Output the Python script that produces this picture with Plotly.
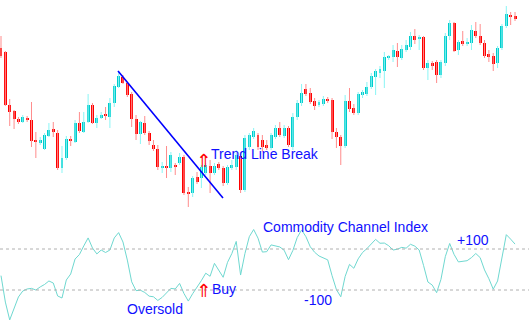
import plotly.graph_objects as go

# Price chart (candles)
opens = [202,198,145,139,131,128,132,130,109,107,101,114,121,117,82,92,110,108,127,118,
         128,145,127,132,136,133,147,163,173,167,156,131,116,127,117,105,101,82,84,82,
         84,87,93,57,57,73,72,77,84,77,86,82,67,82,83,94,60,103,113,115,
         110,105,102,113,122,114,122,103,133,147,161,157,149,145,146,151,150,118,113,104,
         149,142,137,155,156,163,173,177,179,192,193,199,192,200,203,214,211,213,182,187,
         188,175,187,214,227,200,209,206,207,219,214,207,196,194,187,202,224,235,234]
closes = [194,145,138,131,128,133,130,109,108,110,115,120,118,82,92,111,109,127,119,128,
          145,127,132,135,134,147,164,174,167,155,131,116,128,117,109,101,83,84,82,95,
          83,93,57,56,72,68,83,85,77,84,82,67,83,85,95,60,112,115,119,103,
          103,102,115,122,115,122,105,133,147,157,156,148,144,148,151,149,118,113,104,149,
          141,137,156,158,163,174,179,181,193,193,200,193,201,205,214,210,213,182,187,184,
          175,188,214,227,199,208,206,208,220,214,207,194,193,186,202,224,236,233,231]
highs = [214,199,151,140,133,135,134,148,118,113,117,127,128,120,104,114,114,130,138,138,
         156,147,135,138,143,152,166,178,175,168,158,135,129,134,119,110,105,88,104,98,
         87,97,95,63,74,78,85,87,90,87,88,84,85,90,100,98,115,117,122,117,
         115,110,117,125,128,125,124,137,150,166,166,162,152,150,154,153,152,122,115,155,
         162,146,158,160,168,177,181,184,198,195,205,207,205,210,218,221,215,214,190,189,
         190,190,217,230,228,210,219,212,225,228,226,210,200,197,204,226,244,238,238]
lows = [192,144,124,121,126,127,128,103,92,105,100,113,113,80,77,90,104,107,117,117,
        127,126,122,131,130,122,143,162,166,153,123,110,106,115,105,99,80,77,72,78,
        75,85,55,43,53,66,62,75,57,75,80,64,65,80,80,57,58,100,111,100,
        98,100,100,111,113,112,103,100,130,144,154,146,140,143,144,147,111,102,85,102,
        138,135,135,152,154,161,155,172,162,190,188,183,190,198,200,206,200,180,170,180,
        167,172,184,210,198,195,204,204,200,212,205,192,188,179,182,200,222,225,229]

# Commodity Channel Index, one value per candle
cci = [-30,-159,-246,-193,-134,-105,-95,-92,-100,-85,-73,-56,-66,-129,-139,-51,-22,51,73,115,
       154,105,76,95,83,95,154,180,134,46,-60,-103,-101,-112,-130,-133,-151,-136,-116,-92,
       -95,-68,-117,-154,-118,-89,-54,-18,-33,30,-6,-38,35,78,137,-27,78,160,195,153,
       85,87,120,115,110,94,48,93,156,193,160,111,84,66,56,47,-30,-98,-133,-34,
       25,6,52,83,102,126,147,128,129,116,95,99,108,104,123,114,95,20,-61,-76,
       -113,-48,63,127,74,37,41,43,58,78,58,-2,-45,-96,-56,48,170,148,124]

cci_levels = [100, -100]
trend_x = [26.86, 50.96]
trend_y = [179, 52]

idx = list(range(len(opens)))
up = [c >= o for o, c in zip(opens, closes)]

wx_up, wy_up, wx_dn, wy_dn = [], [], [], []
for i in idx:
    if up[i]:
        wx_up += [i, i, None]; wy_up += [lows[i], highs[i], None]
    else:
        wx_dn += [i, i, None]; wy_dn += [lows[i], highs[i], None]

base = [min(o, c) for o, c in zip(opens, closes)]
height = [max(abs(c - o), 1.2) for o, c in zip(opens, closes)]
body_col = ['#00cccc' if u else '#ff0000' for u in up]

fig = go.Figure()
fig.add_trace(go.Scatter(x=wx_up, y=wy_up, mode='lines', line=dict(color='#8af5f5', width=1),
                         hoverinfo='skip', showlegend=False))
fig.add_trace(go.Scatter(x=wx_dn, y=wy_dn, mode='lines', line=dict(color='#ff8c8c', width=1),
                         hoverinfo='skip', showlegend=False))
fig.add_trace(go.Bar(x=idx, y=height, base=base, width=0.68, marker=dict(color=body_col, line=dict(width=0)),
                     showlegend=False))
fig.add_trace(go.Scatter(x=trend_x, y=trend_y, mode='lines', line=dict(color='#0000ff', width=1.6),
                         showlegend=False))
fig.add_trace(go.Scatter(x=idx, y=cci, mode='lines', line=dict(color='#6fd8d0', width=1),
                         yaxis='y2', showlegend=False))

for lv in cci_levels:
    fig.add_shape(type='line', xref='paper', x0=0, x1=1, yref='y2', y0=lv, y1=lv,
                  line=dict(color='#b0b0b0', width=1, dash='dot'))

W, H = 529, 330
def ann(text, px, py, color='#1010ff', size=14, family='Liberation Sans, Arial, sans-serif'):
    fig.add_annotation(text=text, xref='paper', yref='paper', x=px / W, y=1 - py / H,
                       xanchor='center', yanchor='middle', showarrow=False,
                       font=dict(color=color, size=size, family=family))

ann('Trend Line Break', 265, 154)
ann('Commodity Channel Index', 345.5, 227)
ann('+100', 472.5, 240)
ann('-100', 317.5, 300)
ann('Oversold', 154.5, 309)
ann('Buy', 224, 289)
ann('⇑', 203, 160, color='#ff0000', size=18, family='DejaVu Sans')
ann('⇑', 203, 290, color='#ff0000', size=18, family='DejaVu Sans')

fig.update_layout(
    width=W, height=H, margin=dict(l=0, r=0, t=0, b=0),
    paper_bgcolor='white', plot_bgcolor='white', barmode='overlay', bargap=0,
    xaxis=dict(visible=False, range=[-0.23, 121.21]),
    yaxis=dict(visible=False, range=[-80, 250], domain=[0, 1]),
    yaxis2=dict(visible=False, range=[-295.1, 1314.6], overlaying='y'),
    showlegend=False,
)
fig.write_html('out.html')
